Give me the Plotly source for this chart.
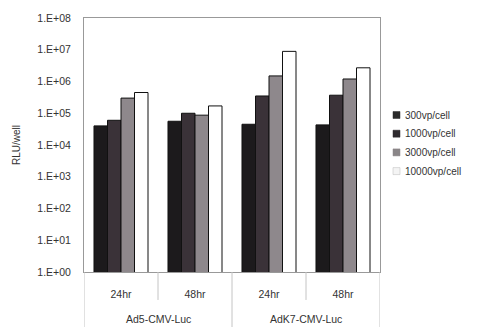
import plotly.graph_objects as go

# Luciferase expression by vector, time point and dose
vectors = ["Ad5-CMV-Luc", "AdK7-CMV-Luc"]
timepoints = ["24hr", "48hr", "24hr", "48hr"]

doses = ["300vp/cell", "1000vp/cell", "3000vp/cell", "10000vp/cell"]
rlu_300 = [4.0e4, 5.6e4, 4.5e4, 4.3e4]
rlu_1000 = [6.0e4, 1.0e5, 3.5e5, 3.7e5]
rlu_3000 = [3.0e5, 8.7e4, 1.5e6, 1.2e6]
rlu_10000 = [4.5e5, 1.7e5, 8.9e6, 2.7e6]

ytick_vals = [10 ** k for k in range(0, 9)]
ytick_text = ["1.E+%02d" % k for k in range(0, 9)]

series = [rlu_300, rlu_1000, rlu_3000, rlu_10000]
fills = ["#1c1a1c", "#3a3238", "#8e888c", "#ffffff"]
swatch_fills = ["#2a2a2a", "#2e2a2e", "#8a8688", "#f4f4f4"]

positions = list(range(len(timepoints)))

FONT = "Liberation Sans, Arial, sans-serif"
TXT = "#333333"

# plot-area geometry in pixels, used to place the hand-drawn legend
W, H = 483, 327
ML, MR, MT, MB = 84, 103, 18, 55
PW, PH = W - ML - MR, H - MT - MB


def px_x(px):
    return (px - ML) / PW


def px_y(py):
    return (H - MB - py) / PH


fig = go.Figure()
for name, vals, col in zip(doses, series, fills):
    fig.add_trace(go.Bar(
        x=positions,
        y=vals,
        name=name,
        marker=dict(color=col, line=dict(color="#111111", width=1)),
    ))

shapes = []
annotations = []

# category dividers below the axis: short between time points, long between vectors
for xv, depth in [(-0.5, -0.25), (0.5, -0.11), (1.5, -0.25), (2.5, -0.11), (3.5, -0.25)]:
    shapes.append(dict(type="line", xref="x", yref="paper", x0=xv, x1=xv, y0=0, y1=depth,
                       line=dict(color="#c4c4c4", width=1)))

# vector labels under the time points
for i, v in enumerate(vectors):
    annotations.append(dict(text=v, xref="x", yref="paper", x=2 * i + 0.5, y=px_y(319),
                            xanchor="center", yanchor="middle", showarrow=False,
                            font=dict(family=FONT, size=10.5, color=TXT)))

# legend
for i, (name, sc) in enumerate(zip(doses, swatch_fills)):
    cy = 115 + i * 18.7
    shapes.append(dict(type="rect", xref="paper", yref="paper",
                       x0=px_x(393), x1=px_x(400), y0=px_y(cy + 3.5), y1=px_y(cy - 3.5),
                       fillcolor=sc, line=dict(color="#bbbbbb" if i == 3 else sc, width=0.5)))
    annotations.append(dict(text=name, xref="paper", yref="paper", x=px_x(403), y=px_y(cy),
                            xanchor="left", yanchor="middle", showarrow=False,
                            font=dict(family=FONT, size=10, color=TXT)))

fig.update_layout(
    width=W,
    height=H,
    margin=dict(l=ML, r=MR, t=MT, b=MB),
    paper_bgcolor="white",
    plot_bgcolor="white",
    font=dict(family=FONT, size=10.5, color=TXT),
    barmode="group",
    bargap=0.27,
    bargroupgap=0,
    showlegend=False,
    shapes=shapes,
    annotations=annotations,
    xaxis=dict(
        range=[-0.5, 3.5],
        tickvals=positions,
        ticktext=timepoints,
        showline=True, linecolor="#999999", linewidth=1, mirror=True,
        showgrid=False,
        zeroline=False,
        ticks="",
        ticklabelstandoff=12,
        tickfont=dict(size=10.5),
    ),
    yaxis=dict(
        type="log",
        range=[0, 8],
        tickvals=ytick_vals,
        ticktext=ytick_text,
        showline=True, linecolor="#999999", linewidth=1, mirror=True,
        showgrid=False,
        zeroline=False,
        ticks="",
        ticklabelstandoff=10,
        tickfont=dict(size=10.5),
        title=dict(text="RLU/well", font=dict(size=10), standoff=14),
    ),
)

fig.write_html("out.html")
